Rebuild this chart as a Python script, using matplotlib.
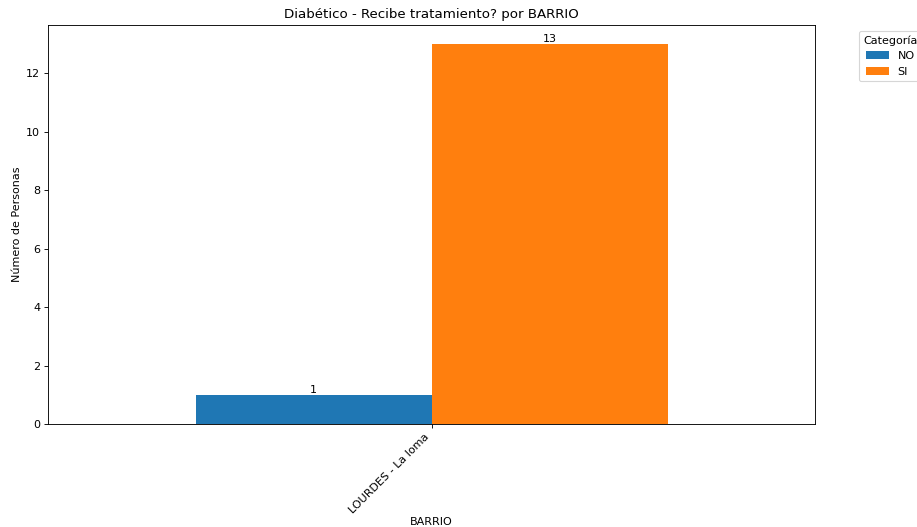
import matplotlib
matplotlib.use("Agg")
import matplotlib.pyplot as plt
import numpy as np

barrios = ["LOURDES - La loma"]
categorias = ["NO", "SI"]
valores = {"NO": [1], "SI": [13]}
colores = ["#1f77b4", "#ff7f0e"]

fig = plt.figure(figsize=(917/80, 527/80), dpi=80)
ax = fig.add_axes([48/917, 1 - 424/527, (815-48)/917, (424-25)/527])

x = np.arange(len(barrios))
w = 0.25
for i, cat in enumerate(categorias):
    bars = ax.bar(x + (i - 0.5) * w, valores[cat], width=w, color=colores[i], label=cat)
    ax.bar_label(bars)

ax.set_xlim(-0.40625, 0.40625)
ax.set_xticks(x)
ax.set_xticklabels(barrios, rotation=45, ha="right")
ax.set_title("Diabético - Recibe tratamiento? por BARRIO")
ax.set_xlabel("BARRIO", labelpad=1.5)
ax.set_ylabel("Número de Personas")
ax.legend(title="Categoría", bbox_to_anchor=(1.05, 1), loc="upper left")

fig.savefig("out.png", dpi=80)
